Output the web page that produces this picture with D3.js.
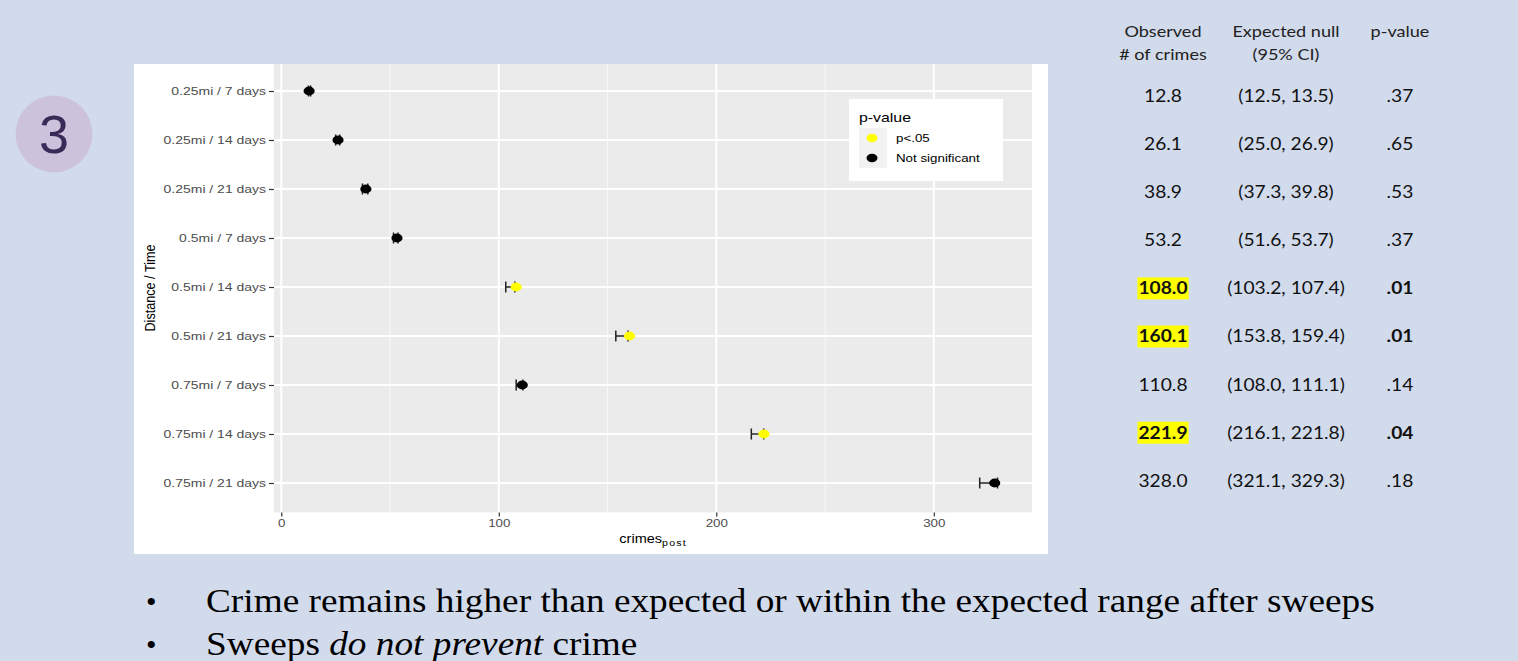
<!DOCTYPE html>
<html><head><meta charset="utf-8">
<script src="https://cdn.jsdelivr.net/npm/d3@7"></script>
<style>html,body{margin:0;padding:0;background:#d2dbec;overflow:hidden}</style>
</head><body>
<svg id="c" width="1518" height="661"></svg>
<script>
// ---- data ----
const categories = ["0.25mi / 7 days","0.25mi / 14 days","0.25mi / 21 days","0.5mi / 7 days","0.5mi / 14 days","0.5mi / 21 days","0.75mi / 7 days","0.75mi / 14 days","0.75mi / 21 days"];
const observed = [12.8, 26.1, 38.9, 53.2, 108.0, 160.1, 110.8, 221.9, 328.0];
const ciLow = [12.5, 25.0, 37.3, 51.6, 103.2, 153.8, 108.0, 216.1, 321.1];
const ciHigh = [13.5, 26.9, 39.8, 53.7, 107.4, 159.4, 111.1, 221.8, 329.3];
const pValues = [".37", ".65", ".53", ".37", ".01", ".01", ".14", ".04", ".18"];
const significant = [false, false, false, false, true, true, false, true, false];
const xTicks = [0, 100, 200, 300];
const xMinor = [50, 150, 250];
const legendLabels = ["p<.05", "Not significant"];
const bullets = ["Crime remains higher than expected or within the expected range after sweeps", "Sweeps |do not prevent| crime"];

const svg = d3.select("#c");
const sigColor = "#ffff00", nsColor = "#000000";
const SANS = "Liberation Sans, Arial, sans-serif";
const K = 1.27; // horizontal stretch of chart text

// stretch text horizontally around its anchor x
function stretch(sel, k){
  sel.each(function(){
    const t = d3.select(this);
    const x0 = +t.attr("x") || 0;
    const tr = t.attr("transform") || "";
    t.attr("x", x0/k).attr("transform", tr + ` scale(${k},1)`);
  });
}

// number badge
svg.append("circle").attr("cx",54).attr("cy",134).attr("r",38.5).attr("fill","#cdc2dc");
svg.append("text").attr("x",54).attr("y",153).attr("text-anchor","middle")
  .attr("font-family",SANS).attr("font-size",54).attr("fill","#3a2a57").text("3");

// plot background
svg.append("rect").attr("x",134).attr("y",64).attr("width",914).attr("height",490).attr("fill","#ffffff");

const P = {l:274, r:1032, t:61.6, b:512.4};
const lo = d3.min([...ciLow, ...observed]), hi = d3.max([...ciHigh, ...observed]);
const ex = 0.05*(hi-lo);
const x = d3.scaleLinear().domain([lo-ex, hi+ex]).range([P.l, P.r]);
const y = d3.scalePoint().domain(categories).range([P.t, P.b]).padding(0.6);
const panelTop = 64;

svg.append("rect").attr("x",P.l).attr("y",panelTop).attr("width",P.r-P.l).attr("height",P.b-panelTop).attr("fill","#ebebeb");
const g = svg.append("g");
g.selectAll(".mn").data(xMinor).join("line").attr("x1",d=>x(d)).attr("x2",d=>x(d)).attr("y1",panelTop).attr("y2",P.b)
  .attr("stroke","#f8f8f8").attr("stroke-width",1);
g.selectAll(".mj").data(xTicks).join("line").attr("x1",d=>x(d)).attr("x2",d=>x(d)).attr("y1",panelTop).attr("y2",P.b)
  .attr("stroke","#ffffff").attr("stroke-width",2);
g.selectAll(".hy").data(categories).join("line").attr("x1",P.l).attr("x2",P.r).attr("y1",d=>y(d)).attr("y2",d=>y(d))
  .attr("stroke","#ffffff").attr("stroke-width",2);

// axes
const xa = svg.append("g").attr("transform",`translate(0,${P.b})`)
  .call(d3.axisBottom(x).tickValues(xTicks).tickSize(4).tickPadding(3));
xa.select(".domain").remove();
xa.selectAll("line").attr("stroke","#333").attr("stroke-width",1.2);
xa.selectAll("text").attr("font-family",SANS).attr("font-size",10.5).attr("fill","#4d4d4d");
stretch(xa.selectAll("text"), K);
const ya = svg.append("g").attr("transform",`translate(${P.l},0)`)
  .call(d3.axisLeft(y).tickSize(5).tickPadding(3));
ya.select(".domain").remove();
ya.selectAll("line").attr("stroke","#333").attr("stroke-width",1.2);
ya.selectAll("text").attr("font-family",SANS).attr("font-size",11).attr("fill","#4d4d4d");
stretch(ya.selectAll("text"), K);

// axis titles
const xt = svg.append("text").attr("x",653).attr("y",543).attr("text-anchor","middle")
  .attr("font-family",SANS).attr("font-size",13).attr("fill","#000");
xt.append("tspan").text("crimes");
xt.append("tspan").attr("font-size",9.5).attr("dy",3).attr("letter-spacing",1).text("post");
stretch(xt, 1.12);
svg.append("text").attr("transform","translate(155,288) rotate(-90)").attr("text-anchor","middle")
  .attr("font-family",SANS).attr("font-size",14).attr("fill","#000")
  .attr("textLength",87).attr("lengthAdjust","spacingAndGlyphs")
  .text("Distance / Time");

// error bars
const rows = categories.map((c,i)=>({c, o:observed[i], l:ciLow[i], h:ciHigh[i], s:significant[i]}));
const eb = svg.append("g").attr("stroke","#222").attr("stroke-width",1.5);
eb.selectAll(".eh").data(rows).join("line").attr("x1",d=>x(d.l)).attr("x2",d=>x(d.h)).attr("y1",d=>y(d.c)).attr("y2",d=>y(d.c));
eb.selectAll(".el").data(rows).join("line").attr("x1",d=>x(d.l)).attr("x2",d=>x(d.l)).attr("y1",d=>y(d.c)-5.5).attr("y2",d=>y(d.c)+5.5);
eb.selectAll(".er").data(rows).join("line").attr("x1",d=>x(d.h)).attr("x2",d=>x(d.h)).attr("y1",d=>y(d.c)-5.5).attr("y2",d=>y(d.c)+5.5);
// points
svg.append("g").selectAll("ellipse").data(rows).join("ellipse")
  .attr("cx",d=>x(d.o)).attr("cy",d=>y(d.c)).attr("rx",5.6).attr("ry",4.4)
  .attr("fill",d=>d.s?sigColor:nsColor);

// legend
const lg = svg.append("g");
lg.append("rect").attr("x",849).attr("y",99).attr("width",154).attr("height",82).attr("fill","#fff");
const lt = lg.append("text").attr("x",859).attr("y",122).attr("font-family",SANS).attr("font-size",12.5).attr("fill","#000").text("p-value");
stretch(lt, K);
lg.append("rect").attr("x",859).attr("y",128).attr("width",28).attr("height",40).attr("fill","#f2f2f2");
[sigColor, nsColor].forEach((col,i)=>{
  lg.append("ellipse").attr("cx",872).attr("cy",138+i*20).attr("rx",5.5).attr("ry",4.2).attr("fill",col);
  const t = lg.append("text").attr("x",896).attr("y",142+i*20).attr("font-family",SANS).attr("font-size",10.5).attr("fill","#000").text(legendLabels[i]);
  stretch(t, K);
});

// table
const tf = "Lato, 'Open Sans', sans-serif";
const TK = 1.13;
const cols = [1163, 1286, 1400];
const heads = [["Observed","# of crimes"],["Expected null","(95% CI)"],["p-value"]];
heads.forEach((h,i)=>h.forEach((t,j)=>{
  const tx = svg.append("text").attr("x",cols[i]).attr("y",37+j*23).attr("text-anchor","middle")
    .attr("font-family",tf).attr("font-size",16).attr("fill","#222").text(t);
  stretch(tx, TK);
}));
rows.forEach((d,i)=>{
  const cy = 96 + i*48.1;
  const yy = cy+6;
  const t0 = svg.append("text").attr("x",cols[0]).attr("y",yy).attr("text-anchor","middle").attr("font-family",tf).attr("font-size",17)
    .attr("font-weight",d.s?"bold":"normal").attr("fill","#111").text(d.o.toFixed(1));
  if(d.s){
    const bb = t0.node().getBBox();
    const w = bb.width*TK;
    svg.insert("rect",()=>t0.node()).attr("x",cols[0]-w/2-1).attr("y",cy-11).attr("width",w+2).attr("height",22).attr("fill","#ffff00");
  }
  stretch(t0, TK);
  const t1 = svg.append("text").attr("x",cols[1]).attr("y",yy).attr("text-anchor","middle").attr("font-family",tf).attr("font-size",17)
    .attr("fill","#111").text(`(${d.l.toFixed(1)}, ${d.h.toFixed(1)})`);
  stretch(t1, TK);
  const t2 = svg.append("text").attr("x",cols[2]).attr("y",yy).attr("text-anchor","middle").attr("font-family",tf).attr("font-size",17)
    .attr("font-weight",d.s?"bold":"normal").attr("fill","#111").text(pValues[i]);
  stretch(t2, TK);
});

// bullets
bullets.forEach((b,i)=>{
  const by = 612+i*43;
  svg.append("text").attr("x",146).attr("y",by).attr("font-family","Liberation Serif, Times New Roman, serif").attr("font-size",30).attr("fill","#000").text("•");
  const t = svg.append("text").attr("x",206).attr("y",by).attr("font-family","Liberation Serif, Times New Roman, serif").attr("font-size",33).attr("fill","#000");
  b.split("|").forEach((part,k)=>t.append("tspan").attr("font-style",k%2?"italic":"normal").text(part));
  stretch(t, 1.13);
});
</script>
</body></html>
